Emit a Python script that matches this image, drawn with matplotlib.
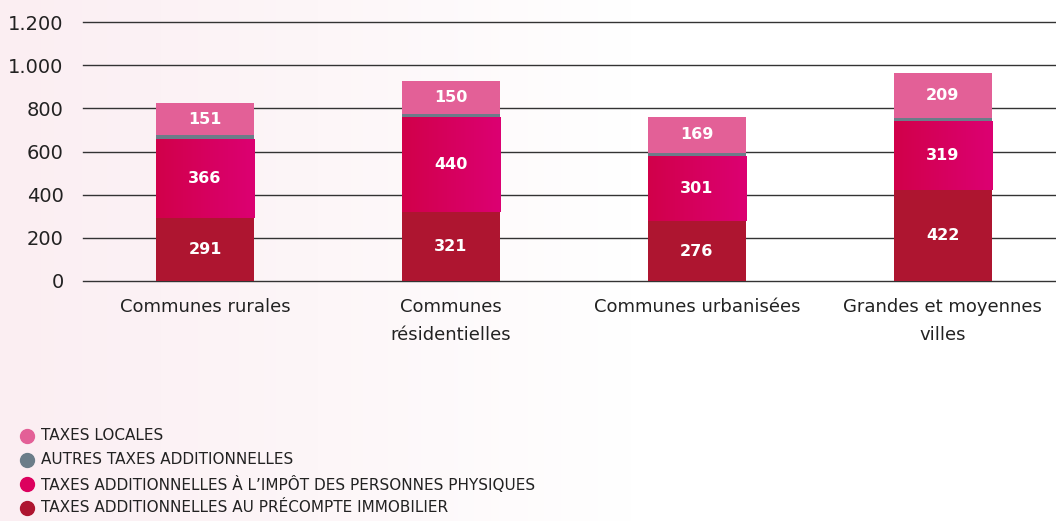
import numpy as np
import matplotlib
matplotlib.use("Agg")
import matplotlib.pyplot as plt
from matplotlib.colors import LinearSegmentedColormap
from matplotlib.lines import Line2D

categories = ["Communes rurales", "Communes\nrésidentielles", "Communes urbanisées", "Grandes et moyennes\nvilles"]
precompte = [291, 321, 276, 422]
ipp = [366, 440, 301, 319]
autres = [18, 15, 15, 12]
locales = [151, 150, 169, 209]
yticks = [0, 200, 400, 600, 800, 1000, 1200]
ytick_labels = ["0", "200", "400", "600", "800", "1.000", "1.200"]
legend_labels = ["TAXES LOCALES", "AUTRES TAXES ADDITIONNELLES",
                 "TAXES ADDITIONNELLES À L’IMPÔT DES PERSONNES PHYSIQUES",
                 "TAXES ADDITIONNELLES AU PRÉCOMPTE IMMOBILIER"]

c_loc = "#E36097"
c_aut = "#6B7D89"
c_ipp = "#D8005E"
c_pre = "#AE1530"

plt.rcParams['font.family'] = ['DejaVu Sans']

fig = plt.figure(figsize=(10.56, 5.21), dpi=100)

# background gradient
bg = fig.add_axes([0, 0, 1, 1], zorder=-10)
grad = np.linspace(0, 1, 256)[None, :]
bg_cmap = LinearSegmentedColormap.from_list(
    "bg", [(0, "#FBEEF2"), (0.3, "#FDF6F8"), (0.6, "#FFFFFF"), (1, "#FFFFFF")])
bg.imshow(grad, aspect="auto", cmap=bg_cmap, extent=[0, 1, 0, 1])
bg.set_axis_off()

ax = fig.add_axes([83/1056, (521-281)/521, 1-83/1056, (281-22)/521])
ax.patch.set_alpha(0)
x = np.arange(len(categories))
w = 0.40

b1 = ax.bar(x, precompte, w, color=c_pre, zorder=3)
b2 = ax.bar(x, ipp, w, bottom=precompte, color=c_ipp, zorder=3)
bot3 = np.array(precompte) + np.array(ipp)
b3 = ax.bar(x, autres, w, bottom=bot3, color=c_aut, zorder=3)
bot4 = bot3 + np.array(autres)
b4 = ax.bar(x, locales, w, bottom=bot4, color=c_loc, zorder=3)

# gradient overlay on IPP segments
ipp_cmap = LinearSegmentedColormap.from_list("ipp", ["#D1004A", "#DC0072"])
for rect in b2:
    x0, y0 = rect.get_x(), rect.get_y()
    im = ax.imshow(grad, aspect="auto", cmap=ipp_cmap,
                   extent=[x0, x0 + rect.get_width(), y0, y0 + rect.get_height()],
                   zorder=3.5)
    im.set_clip_path(rect)

for bars, vals, bottoms in [(b1, precompte, np.zeros(4)), (b2, ipp, np.array(precompte)),
                            (b4, locales, bot4)]:
    for xi, v, b in zip(x, vals, bottoms):
        ax.text(xi, b + v / 2, str(v), ha="center", va="center", color="white",
                fontsize=11.5, fontweight="bold", zorder=5)

ax.set_xlim(-0.496, 3.46)
ax.set_ylim(0, 1200)
ax.set_yticks(yticks)
ax.set_yticklabels(ytick_labels, fontsize=14, color="#222222")
ax.set_xticks(x)
ax.set_xticklabels(categories, fontsize=13, color="#222222", linespacing=1.75)
ax.tick_params(axis="y", length=0, pad=14)
ax.tick_params(axis="x", length=0, pad=12)
for s in ax.spines.values():
    s.set_visible(False)
ax.grid(axis="y", color="#333333", linewidth=1.0, zorder=0)
ax.set_axisbelow(True)
for gl in ax.get_ygridlines():
    gl.set_clip_on(False)

# legend
leg_colors = [c_loc, c_aut, "#DC005E", c_pre]
ys = [436, 460, 484, 508]
for col, lab, yy in zip(leg_colors, legend_labels, ys):
    fy = (521 - yy) / 521
    fig.add_artist(Line2D([27/1056], [fy], marker="o", markersize=10, color=col,
                          linestyle="none", transform=fig.transFigure))
    fig.text(41/1056, fy, lab, fontsize=11, color="#222222", va="center", ha="left")

fig.savefig("out.png", dpi=100)
